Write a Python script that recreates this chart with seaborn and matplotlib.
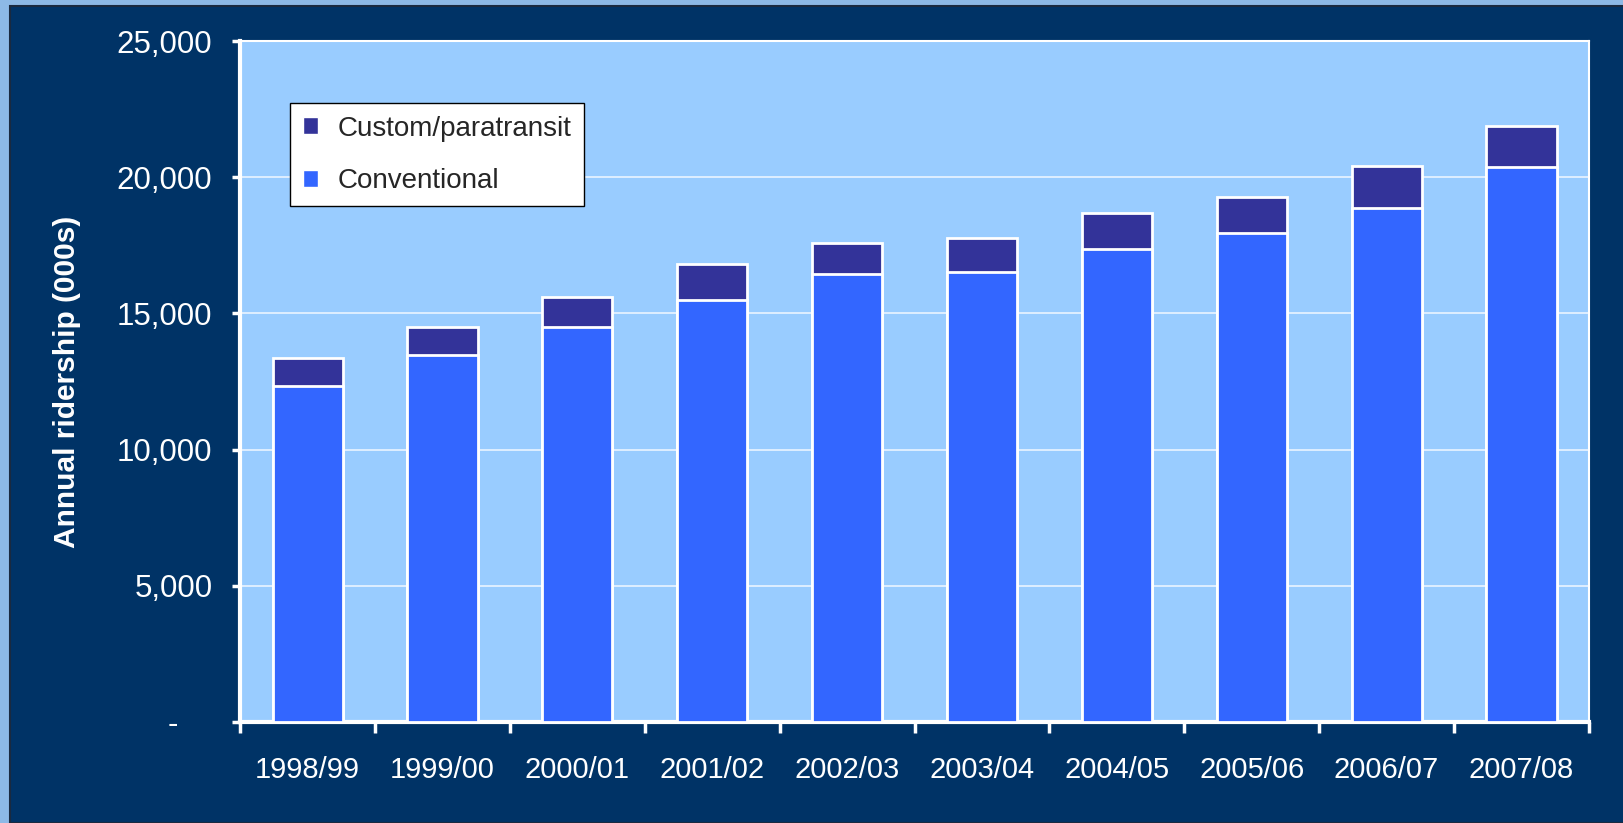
import numpy as np
import pandas as pd
import matplotlib
matplotlib.use("Agg")
import matplotlib.pyplot as plt
from matplotlib.patches import Rectangle, Patch
from matplotlib.ticker import FuncFormatter, FixedLocator
import seaborn as sns

# data
years = ['1998/99', '1999/00', '2000/01', '2001/02', '2002/03',
         '2003/04', '2004/05', '2005/06', '2006/07', '2007/08']
conventional = [12330, 13490, 14510, 15480, 16430, 16530, 17360, 17950, 18860, 20380]
custom = [1050, 1020, 1080, 1330, 1170, 1240, 1330, 1330, 1540, 1510]

df = pd.DataFrame({'year': years, 'Conventional': conventional, 'Custom/paratransit': custom})
df['total'] = df['Conventional'] + df['Custom/paratransit']

navy = '#003366'
plot_bg = '#99CCFF'
conv_col = '#3366FF'
cust_col = '#333399'

sns.set_style("white")
plt.rcParams['font.family'] = ['Liberation Sans', 'DejaVu Sans']

fig = plt.figure(figsize=(16.23, 8.23), dpi=100, facecolor='#8DB9E6')
fig.patches.append(Rectangle((10 / 1623, 0), 1, 1 - 6 / 823, transform=fig.transFigure,
                             facecolor=navy, edgecolor='#1a2a40', linewidth=1.5, zorder=-1))

ax = fig.add_axes([0.148, 0.123, 0.831, 0.827])
ax.set_facecolor(plot_bg)

# stacked: total first (custom on top), then conventional over it
sns.barplot(data=df, x='year', y='total', color=cust_col, saturation=1, width=0.52,
            edgecolor='white', linewidth=2, ax=ax, zorder=3)
sns.barplot(data=df, x='year', y='Conventional', color=conv_col, saturation=1, width=0.52,
            edgecolor='white', linewidth=2, ax=ax, zorder=4)

ax.set_ylim(0, 25000)
ax.set_xlim(-0.5, 9.5)
ax.set_yticks(np.arange(0, 25001, 5000))
# excel accounting style: zero shown as a dash
ax.yaxis.set_major_formatter(FuncFormatter(lambda v, p: '-    ' if v == 0 else f'{int(v):,}'))
ax.grid(axis='y', color='white', linewidth=1.2, alpha=0.8, zorder=0)
ax.set_axisbelow(True)

# x ticks at category boundaries, labels centred
ax.xaxis.set_minor_locator(FixedLocator(np.arange(-0.5, 10, 1)))
ax.tick_params(axis='x', which='major', bottom=False, length=0, pad=25, labelsize=21,
               labelcolor='white')
ax.tick_params(axis='x', which='minor', bottom=True, length=8, width=2.5, color='white',
               direction='out')
ax.tick_params(axis='y', left=True, length=6, width=2.5, color='white', labelsize=22.5,
               labelcolor='white', pad=14)

for s in ['left', 'bottom']:
    ax.spines[s].set_color('white')
    ax.spines[s].set_linewidth(3)
for s in ['top', 'right']:
    ax.spines[s].set_color('white')
    ax.spines[s].set_linewidth(1.5)

ax.set_xlabel('')
ax.set_ylabel('Annual ridership (000s)', color='white', fontsize=21.5, fontweight='bold')
ax.yaxis.set_label_coords(-0.118, 0.5)

handles = [Patch(facecolor=cust_col, label='Custom/paratransit'),
           Patch(facecolor=conv_col, label='Conventional')]
leg = ax.legend(handles=handles, loc='upper left', bbox_to_anchor=(0.037, 0.909),
                borderaxespad=0, frameon=True, fancybox=False, edgecolor='black',
                facecolor='white', fontsize=20, handlelength=0.55, handleheight=0.55,
                handletextpad=0.7, labelspacing=0.95, borderpad=0.45, framealpha=1)
leg.get_frame().set_linewidth(1)

fig.savefig('out.png', dpi=100, facecolor=fig.get_facecolor())
